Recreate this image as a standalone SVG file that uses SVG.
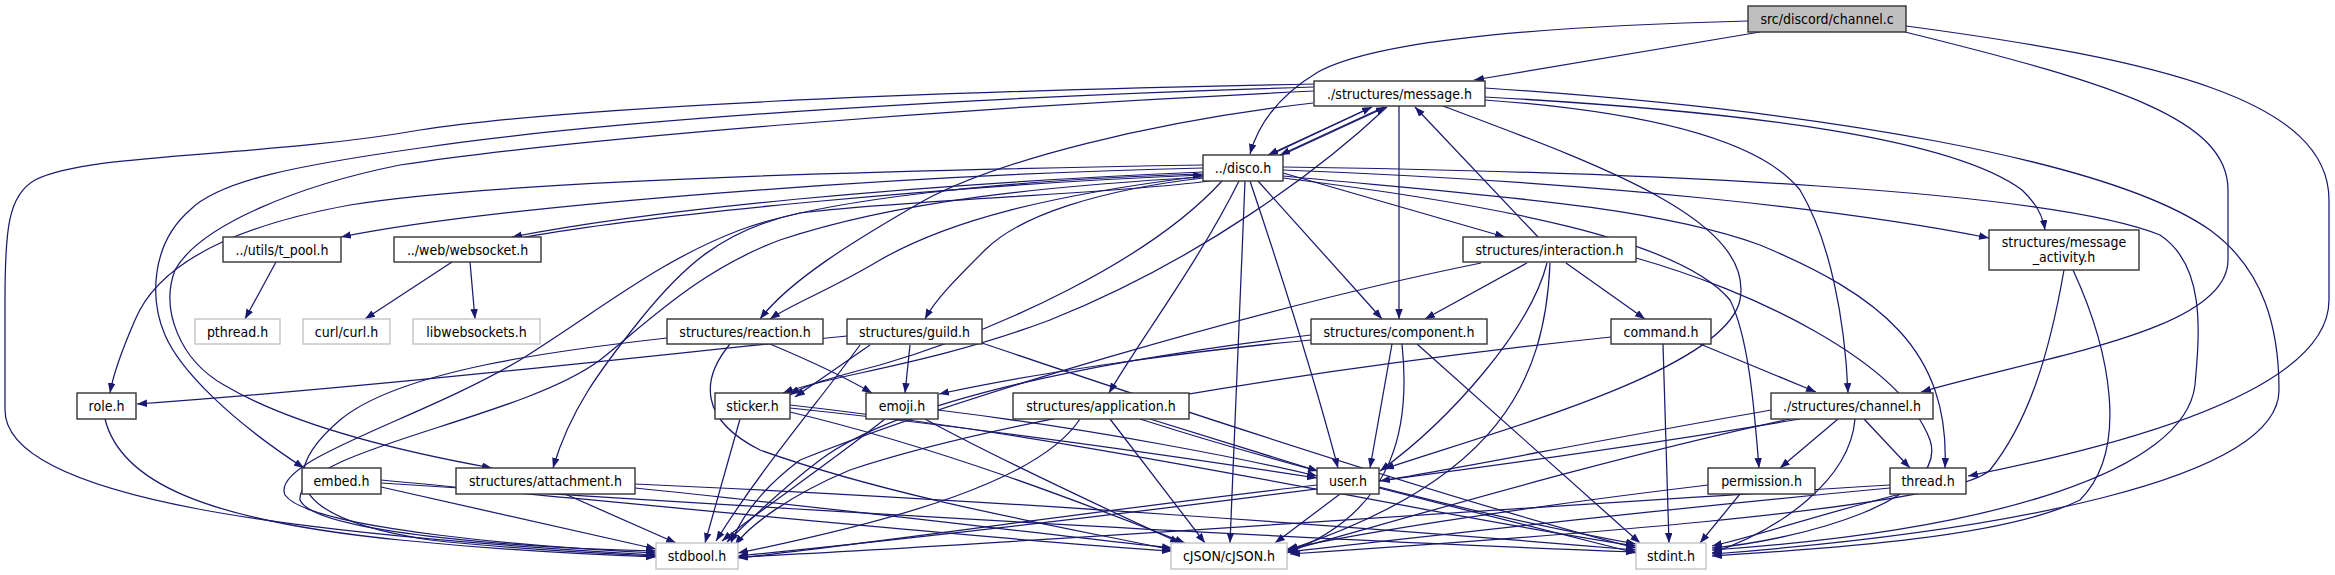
<svg xmlns="http://www.w3.org/2000/svg" width="2335" height="575" viewBox="0 0 2335 575">
<defs>
<marker id="ah" markerUnits="userSpaceOnUse" markerWidth="11" markerHeight="8" refX="10" refY="3.75" orient="auto"><path d="M0,0 L10,3.75 L0,7.5 z" fill="#191970"/></marker>
<style>
.n rect{fill:#fff;stroke:#333;stroke-width:1.4}
.g rect{fill:#fff;stroke:#bfbfbf;stroke-width:1.3}
.r rect{fill:#bfbfbf;stroke:#333;stroke-width:1.4}
text{font-family:"DejaVu Sans Condensed","DejaVu Sans",sans-serif;font-size:14px;fill:#000;text-anchor:middle}
#edges path{fill:none;stroke:#191970;stroke-width:1.25;marker-end:url(#ah)}
</style>
</defs>
<rect width="2335" height="575" fill="#fff"/>
<g id="edges">
<path d="M1748,21 C1560,26 1380,38 1318,72 C1278,96 1258,125 1250,154"/>
<path d="M1760,32 L1474,80"/>
<path d="M1905,32 C2120,85 2228,120 2228,190 L2228,260 C2228,330 2050,355 1921,392"/>
<path d="M1906,26 C2160,60 2329,100 2329,200 L2329,300 C2329,385 2150,440 1968,476"/>
<path d="M1372,107 L1268,155"/>
<path d="M1270,155 L1372,107"/>
<path d="M1384,107 L1280,155"/>
<path d="M1282,155 L1386,107"/>
<path d="M1314,84 C900,92 560,108 420,130 C260,158 90,152 35,180 C8,195 5,230 5,300 L5,410 C5,500 300,535 656,555"/>
<path d="M1314,87 C1000,96 620,118 420,148 C300,165 220,180 190,210 C150,245 150,300 165,335 C180,370 230,420 304,468"/>
<path d="M1314,91 C950,108 560,140 400,165 C300,185 200,225 175,270 C160,310 180,360 224,385 C300,430 420,455 492,468"/>
<path d="M1313,103 C1150,122 1000,160 925,200 C855,240 790,280 760,319"/>
<path d="M1399,106 L1399,319"/>
<path d="M1443,106 C1600,165 1755,220 1740,300 C1725,370 1500,430 1384,469"/>
<path d="M1485,97 C1760,112 1955,140 2022,190 C2036,203 2043,216 2045,230"/>
<path d="M1485,88 C1820,110 2110,160 2210,230 C2265,270 2279,330 2279,390 C2279,480 2000,532 1712,554"/>
<path d="M1485,100 C1650,112 1760,140 1800,190 C1830,240 1845,320 1848,393"/>
<path d="M1387,107 C1320,170 1200,260 1050,320 C930,365 830,375 783,393"/>
<path d="M1203,165 C900,170 500,180 350,205 C240,225 160,260 135,320 C122,350 113,375 110,393"/>
<path d="M1203,168 C900,175 500,205 341,237"/>
<path d="M1203,172 C900,185 650,210 512,237"/>
<path d="M525,237 C650,215 950,185 1203,175"/>
<path d="M452,262 L365,319"/>
<path d="M470,262 L475,319"/>
<path d="M276,262 L245,319"/>
<path d="M1203,176 C1050,195 950,220 880,260 C830,290 790,305 770,319"/>
<path d="M1203,178 C1100,190 1020,215 985,250 C955,280 935,300 925,319"/>
<path d="M1222,181 C1150,260 1000,330 880,365 C830,378 805,385 790,395"/>
<path d="M1210,181 C1100,195 900,200 800,213 C720,230 680,270 640,320 C600,370 570,410 553,468"/>
<path d="M1239,181 C1200,260 1140,340 1109,393"/>
<path d="M1245,181 L1230,543"/>
<path d="M1250,181 C1290,300 1320,400 1338,468"/>
<path d="M1258,181 L1382,319"/>
<path d="M1283,173 L1505,237"/>
<path d="M1283,170 C1600,182 1850,210 1989,238"/>
<path d="M1283,167 C1650,172 2050,190 2160,235 C2205,265 2200,330 2195,385 C2185,470 2000,530 1712,550"/>
<path d="M1283,176 C1480,195 1650,205 1760,245 C1880,295 1950,350 1945,468"/>
<path d="M1283,178 C1500,205 1680,240 1730,300 C1750,340 1755,420 1759,468"/>
<path d="M1203,174 C1000,180 820,200 740,230 C660,260 600,310 520,360 C420,420 270,460 285,495 C310,530 550,548 656,553"/>
<path d="M1203,177 C1050,186 900,200 780,240 C700,270 650,320 600,360 C520,420 295,450 300,500 C315,535 550,549 656,551"/>
<path d="M667,338 C560,350 400,370 340,420 C270,480 300,520 430,540 C520,550 600,553 656,556"/>
<path d="M847,336 C700,350 400,385 137,404"/>
<path d="M870,345 L795,397"/>
<path d="M910,345 L905,393"/>
<path d="M982,343 C1150,400 1450,500 1636,548"/>
<path d="M860,345 C820,400 760,470 716,541"/>
<path d="M770,344 C820,365 850,380 872,393"/>
<path d="M730,344 C700,380 700,420 760,450 C900,500 1080,530 1172,550"/>
<path d="M740,419 L705,543"/>
<path d="M790,408 C1000,430 1200,460 1317,478"/>
<path d="M790,412 C950,450 1100,510 1185,543"/>
<path d="M790,405 C1100,440 1400,510 1636,546"/>
<path d="M938,410 C1100,430 1250,460 1317,476"/>
<path d="M885,419 C820,470 760,510 722,541"/>
<path d="M925,419 C1000,460 1130,520 1180,543"/>
<path d="M1080,419 C1040,480 900,520 738,553"/>
<path d="M1110,419 L1205,543"/>
<path d="M1150,419 L1318,471"/>
<path d="M1140,419 C1300,470 1500,520 1636,544"/>
<path d="M1392,344 L1370,468"/>
<path d="M1402,344 C1410,420 1400,510 1287,553"/>
<path d="M1417,344 L1640,543"/>
<path d="M1311,340 C1200,350 1050,370 939,394"/>
<path d="M1311,335 C1100,360 900,400 820,460 C780,490 750,520 727,542"/>
<path d="M1527,263 L1425,319"/>
<path d="M1566,263 L1645,319"/>
<path d="M1538,237 L1415,107"/>
<path d="M1547,263 C1530,330 1450,420 1380,471"/>
<path d="M1550,263 C1545,380 1500,480 1288,550"/>
<path d="M1636,258 C1750,290 1900,360 1930,440 C1950,500 1800,540 1712,548"/>
<path d="M1481,263 C1250,310 950,400 800,460 C760,490 740,520 731,543"/>
<path d="M1700,344 L1816,392"/>
<path d="M1663,344 L1669,543"/>
<path d="M1611,337 C1300,370 1000,420 850,470 C790,495 750,525 735,545"/>
<path d="M1771,410 C1600,440 1450,470 1380,481"/>
<path d="M1838,419 L1780,468"/>
<path d="M1864,419 L1910,468"/>
<path d="M1855,419 C1850,480 1780,530 1712,553"/>
<path d="M1800,419 C1500,470 1000,530 738,556"/>
<path d="M1790,419 C1600,460 1400,520 1287,551"/>
<path d="M1317,485 C1100,510 900,540 738,558"/>
<path d="M1340,494 L1275,543"/>
<path d="M1379,488 L1636,553"/>
<path d="M1708,485 C1500,510 1350,535 1287,549"/>
<path d="M1740,494 L1700,543"/>
<path d="M1890,485 C1400,515 1000,545 738,557"/>
<path d="M1890,488 C1600,515 1400,540 1287,552"/>
<path d="M1900,494 C1800,520 1760,535 1712,546"/>
<path d="M381,487 L656,549"/>
<path d="M381,480 C700,510 1000,540 1172,551"/>
<path d="M565,494 L676,543"/>
<path d="M635,488 C850,510 1050,535 1172,548"/>
<path d="M635,484 C1000,500 1400,530 1636,550"/>
<path d="M381,483 C800,510 1300,540 1636,552"/>
<path d="M105,419 C120,480 200,520 400,540 C500,550 600,555 656,557"/>
<path d="M2064,270 C2050,350 2030,420 1990,470 C1950,510 1500,540 1290,554"/>
<path d="M2073,270 C2110,350 2130,450 2080,500 C2000,540 1800,550 1712,556"/>
</g>
<g id="channel_c" class="r"><rect x="1748" y="6" width="158" height="26"/><text x="1827" y="24">src/discord/channel.c</text></g>
<g id="message_h" class="n"><rect x="1314" y="81" width="171" height="25"/><text x="1399.5" y="98.5">./structures/message.h</text></g>
<g id="disco_h" class="n"><rect x="1203" y="155" width="80" height="26"/><text x="1243" y="173">../disco.h</text></g>
<g id="t_pool_h" class="n"><rect x="223" y="237" width="118" height="25"/><text x="282" y="254.5">../utils/t_pool.h</text></g>
<g id="websocket_h" class="n"><rect x="394" y="237" width="147" height="25"/><text x="467.5" y="254.5">../web/websocket.h</text></g>
<g id="pthread_h" class="g"><rect x="195" y="319" width="85" height="25"/><text x="237.5" y="336.5">pthread.h</text></g>
<g id="curl_h" class="g"><rect x="303" y="319" width="87" height="25"/><text x="346.5" y="336.5">curl/curl.h</text></g>
<g id="libwebsockets_h" class="g"><rect x="413" y="319" width="127" height="25"/><text x="476.5" y="336.5">libwebsockets.h</text></g>
<g id="reaction_h" class="n"><rect x="667" y="319" width="156" height="25"/><text x="745" y="336.5">structures/reaction.h</text></g>
<g id="guild_h" class="n"><rect x="847" y="319" width="135" height="25"/><text x="914.5" y="336.5">structures/guild.h</text></g>
<g id="component_h" class="n"><rect x="1311" y="319" width="176" height="25"/><text x="1399" y="336.5">structures/component.h</text></g>
<g id="interaction_h" class="n"><rect x="1463" y="237" width="173" height="25"/><text x="1549.5" y="254.5">structures/interaction.h</text></g>
<g id="command_h" class="n"><rect x="1611" y="319" width="100" height="25"/><text x="1661" y="336.5">command.h</text></g>
<g id="message_activity_h" class="n"><rect x="1989" y="230" width="150" height="40"/><text x="2064" y="247">structures/message</text><text x="2064" y="262">_activity.h</text></g>
<g id="role_h" class="n"><rect x="77" y="393" width="59" height="26"/><text x="106.5" y="411">role.h</text></g>
<g id="sticker_h" class="n"><rect x="715" y="393" width="75" height="26"/><text x="752.5" y="411">sticker.h</text></g>
<g id="emoji_h" class="n"><rect x="866" y="393" width="72" height="26"/><text x="902" y="411">emoji.h</text></g>
<g id="application_h" class="n"><rect x="1013" y="393" width="176" height="26"/><text x="1101" y="411">structures/application.h</text></g>
<g id="channel_h" class="n"><rect x="1771" y="393" width="162" height="26"/><text x="1852" y="411">./structures/channel.h</text></g>
<g id="embed_h" class="n"><rect x="302" y="468" width="79" height="26"/><text x="341.5" y="486">embed.h</text></g>
<g id="attachment_h" class="n"><rect x="456" y="468" width="179" height="26"/><text x="545.5" y="486">structures/attachment.h</text></g>
<g id="user_h" class="n"><rect x="1317" y="468" width="62" height="26"/><text x="1348" y="486">user.h</text></g>
<g id="permission_h" class="n"><rect x="1708" y="468" width="107" height="26"/><text x="1761.5" y="486">permission.h</text></g>
<g id="thread_h" class="n"><rect x="1890" y="468" width="76" height="26"/><text x="1928" y="486">thread.h</text></g>
<g id="stdbool_h" class="g"><rect x="656" y="543" width="82" height="26"/><text x="697" y="561">stdbool.h</text></g>
<g id="cjson_h" class="g"><rect x="1171" y="543" width="116" height="26"/><text x="1229" y="561">cJSON/cJSON.h</text></g>
<g id="stdint_h" class="g"><rect x="1636" y="543" width="70" height="26"/><text x="1671" y="561">stdint.h</text></g>
</svg>
